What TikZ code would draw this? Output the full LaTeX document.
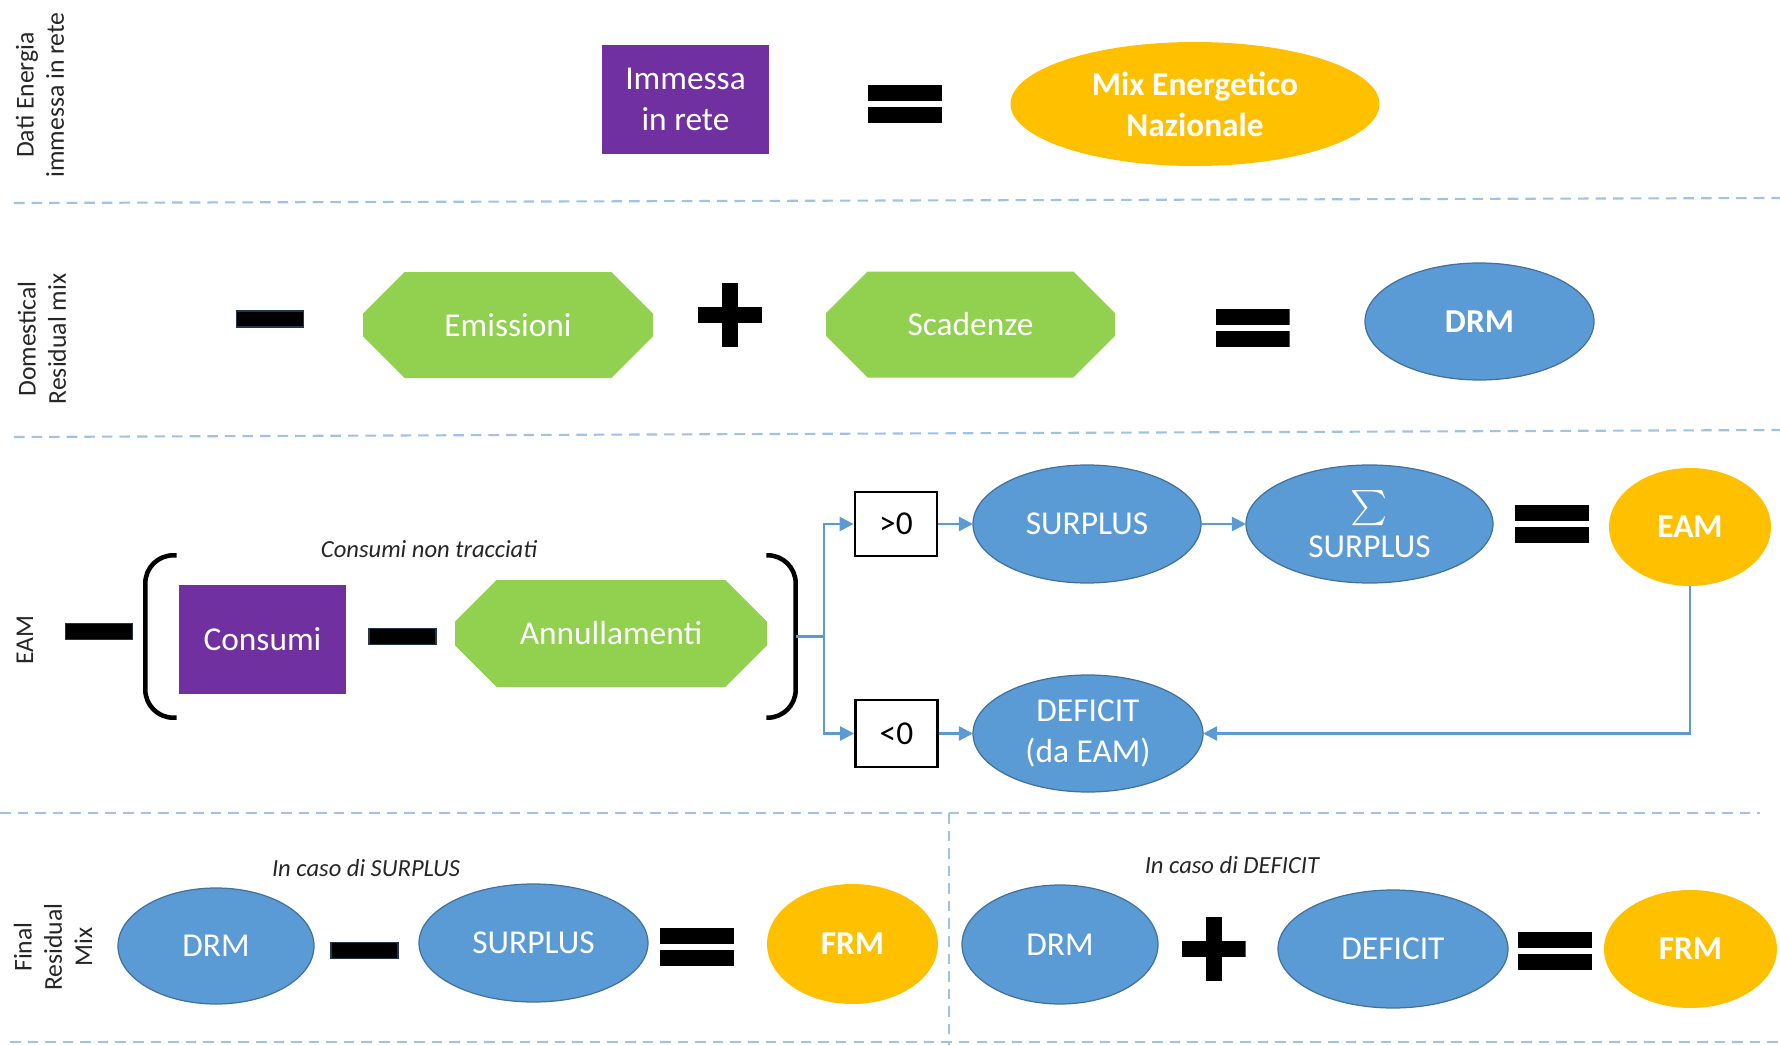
\documentclass[tikz,border=0pt]{standalone}
\usepackage{fontspec}
\setmainfont{Carlito}
\usepackage{tikz}
\usetikzlibrary{arrows.meta}
\usetikzlibrary{shapes.geometric}
\usetikzlibrary{shapes.misc}
\definecolor{mixpurple}{HTML}{7030A0}
\definecolor{mixgreen}{HTML}{92D050}
\definecolor{mixblue}{HTML}{5B9BD5}
\definecolor{mixblueline}{HTML}{41719C}
\definecolor{mixorange}{HTML}{FFC000}
\definecolor{sepblue}{HTML}{9DC3E6}
\newcommand{\boxfont}{\fontsize{9.5}{11.6}\selectfont}
\newcommand{\notefont}{\fontsize{7}{8.5}\selectfont\itshape}
\tikzstyle{block}=[inner sep=0, outer sep=0, text=white, font=\boxfont, align=center]
\tikzstyle{purplebox}=[block, rectangle, fill=mixpurple, minimum width=1.67cm, minimum height=1.09cm]
\tikzstyle{greenbox}=[block, chamfered rectangle, chamfered rectangle xsep=0.3cm, chamfered rectangle ysep=0.3cm,
                      fill=mixgreen, minimum height=1.06cm]
\tikzstyle{blueoval}=[block, ellipse, fill=mixblue, draw=mixblueline, line width=0.35pt, minimum height=1.17cm]
\tikzstyle{orangeoval}=[block, ellipse, fill=mixorange, font=\boxfont\bfseries, minimum height=1.18cm]
\tikzstyle{signbox}=[draw=black, line width=0.8pt, fill=white, minimum width=0.82cm, minimum height=0.64cm,
                     font=\boxfont, inner sep=0]
% operator signs
\tikzstyle{minussign}=[fill=black, draw=mixblueline!50!black, line width=0.3pt, minimum width=0.67cm,
                       minimum height=0.16cm, inner sep=0]
\tikzstyle{equalsign}=[minimum width=0.74cm, minimum height=0.38cm, inner sep=0, path picture={
    \fill[black] (path picture bounding box.north west) rectangle ([yshift=-0.16cm]path picture bounding box.north east);
    \fill[black] (path picture bounding box.south west) rectangle ([yshift=0.16cm]path picture bounding box.south east);}]
\tikzstyle{plussign}=[minimum size=0.64cm, inner sep=0, path picture={
    \fill[black] ([yshift=-0.08cm]path picture bounding box.west) rectangle ([yshift=0.08cm]path picture bounding box.east);
    \fill[black] ([xshift=-0.08cm]path picture bounding box.south) rectangle ([xshift=0.08cm]path picture bounding box.north);}]
\tikzstyle{bracketbox}=[minimum width=0.3cm, minimum height=1.61cm, inner sep=0]
\tikzstyle{bracket}=[line width=1.3pt, rounded corners=0.28cm]
\tikzstyle{sidelabel}=[rotate=90, align=center, font=\fontsize{7.3}{8.6}\selectfont, text=black!85]
\tikzstyle{note}=[font=\notefont, text=black!85]
\tikzstyle{separator}=[sepblue, line width=0.6pt, dash pattern=on 3pt off 2pt]
\tikzstyle{link}=[mixblue, line width=0.7pt]
\tikzstyle{flow}=[link, -{Triangle[length=4pt, width=4pt]}]

\begin{document}
\begin{tikzpicture}
    \useasboundingbox (0, 0) rectangle (17.8, -10.45);
    % separators
    \draw[separator] (0.14, -2.03) -- (17.8, -1.98);
    \draw[separator] (0.14, -4.37) -- (17.8, -4.30);
    \draw[separator] (0, -8.13) -- (17.6, -8.13);
    \draw[separator] (0.1, -10.42) -- (17.8, -10.42);
    \draw[separator] (9.49, -8.13) -- (9.49, -10.45);

    \node[sidelabel] (lbldati) at (0.40, -0.95) {Dati Energia\\immessa in rete};
    \node[sidelabel] (lbldrm) at (0.42, -3.39) {Domestical\\Residual mix};
    \node[sidelabel] (lbleam) at (0.25, -6.40) {EAM};
    \node[sidelabel] (lblfrm) at (0.53, -9.47) {Final\\Residual\\Mix};

    % Dati energia
    \node[purplebox] (immessa) at (6.855, -0.995) {Immessa\\in rete};
    \node[equalsign] (eqA) at (9.05, -1.04) {};
    \node[orangeoval, minimum width=3.69cm, minimum height=1.24cm] (mix) at (11.95, -1.04) {Mix Energetico\\Nazionale};

    % Domestical residual mix
    \node[minussign] (minA) at (2.70, -3.19) {};
    \node[greenbox, minimum width=2.9cm] (emissioni) at (5.08, -3.25) {Emissioni};
    \node[plussign] (plusA) at (7.30, -3.145) {};
    \node[greenbox, minimum width=2.89cm] (scadenze) at (9.705, -3.245) {Scadenze};
    \node[equalsign] (eqB) at (12.525, -3.275) {};
    \node[blueoval, minimum width=2.29cm, font=\boxfont\bfseries] (drmA) at (14.795, -3.215) {DRM};

    % EAM
    \node[minussign] (minB) at (0.99, -6.315) {};
    \node[bracketbox] (lpar) at (1.61, -6.365) {};
    \node[purplebox] (consumi) at (2.625, -6.395) {Consumi};
    \node[minussign] (minC) at (4.025, -6.365) {};
    \node[greenbox, minimum width=3.12cm, minimum height=1.07cm] (annullamenti) at (6.11, -6.335) {Annullamenti};
    \node[bracketbox, minimum width=0.28cm] (rpar) at (7.81, -6.365) {};
    \draw[bracket] (lpar.north east) -- (lpar.north west) -- (lpar.south west) -- (lpar.south east);
    \draw[bracket] (rpar.north west) -- (rpar.north east) -- (rpar.south east) -- (rpar.south west);
    \node[note] (nontracciati) at (4.29, -5.49) {Consumi non tracciati};

    \node[signbox] (pos) at (8.96, -5.24) {>0};
    \node[signbox, minimum height=0.67cm] (neg) at (8.965, -7.335) {<0};
    \node[blueoval, minimum width=2.28cm, minimum height=1.18cm] (surplus) at (10.87, -5.24) {SURPLUS};
    \node[blueoval, minimum width=2.30cm] (deficit) at (10.88, -7.335) {DEFICIT\\(da EAM)};
    \node[blueoval, minimum width=2.47cm, minimum height=1.18cm] (sumsurplus) at (13.695, -5.24) {\(\sum\)\\SURPLUS};
    \node[equalsign] (eqC) at (15.52, -5.24) {};
    \node[orangeoval, minimum width=1.62cm] (eam) at (16.9, -5.27) {EAM};

    \coordinate (split) at (8.24, -6.365);
    \draw[link] (rpar.east) -- (split);
    \draw[flow] (split) |- (pos.west);
    \draw[flow] (split) |- (neg.west);
    \draw[flow] (pos) -- (surplus);
    \draw[flow] (neg) -- (deficit);
    \draw[flow] (surplus) -- (sumsurplus);
    \draw[flow] (eam.south) |- (deficit.east);

    % Final residual mix
    \node[note] (casosurplus) at (3.66, -8.68) {In caso di SURPLUS};
    \node[blueoval, minimum width=1.96cm, minimum height=1.16cm] (drmB) at (2.16, -9.46) {DRM};
    \node[minussign] (minD) at (3.645, -9.505) {};
    \node[blueoval, minimum width=2.29cm, minimum height=1.18cm] (surplusB) at (5.335, -9.43) {SURPLUS};
    \node[equalsign] (eqD) at (6.97, -9.465) {};
    \node[orangeoval, minimum width=1.71cm, minimum height=1.20cm] (frmA) at (8.525, -9.44) {FRM};

    \node[note] (casodeficit) at (12.32, -8.65) {In caso di DEFICIT};
    \node[blueoval, minimum width=1.96cm, minimum height=1.19cm] (drmC) at (10.60, -9.445) {DRM};
    \node[plussign] (plusB) at (12.135, -9.49) {};
    \node[blueoval, minimum width=2.30cm, minimum height=1.18cm] (deficitB) at (13.93, -9.49) {DEFICIT};
    \node[equalsign] (eqE) at (15.55, -9.51) {};
    \node[orangeoval, minimum width=1.73cm] (frmB) at (16.905, -9.49) {FRM};
\end{tikzpicture}
\end{document}
